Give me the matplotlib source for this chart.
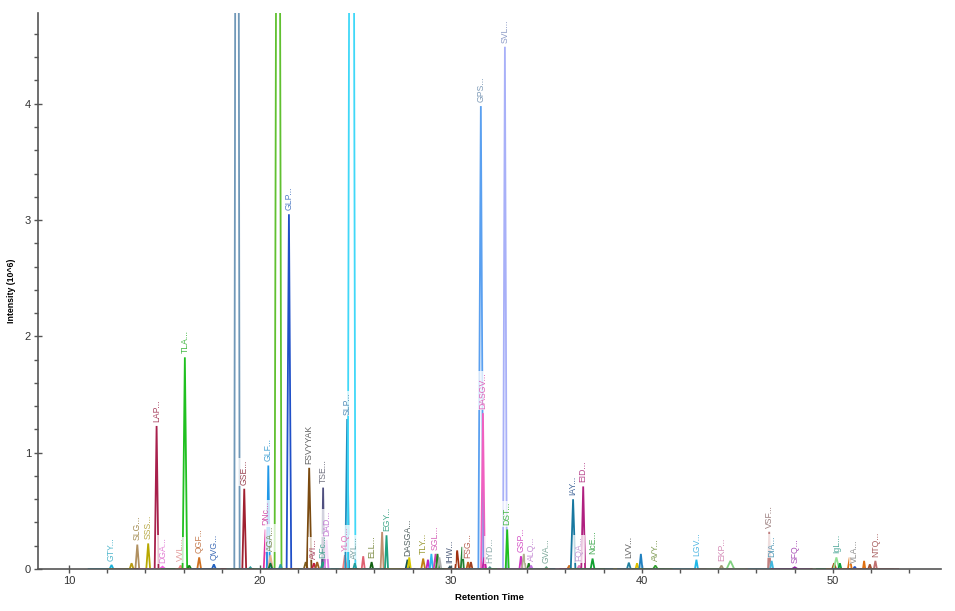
import matplotlib.pyplot as plt
import numpy as np

plt.rcParams['font.family'] = ['Liberation Sans', 'DejaVu Sans']

# peaks: retention time (min), apex (10^6), half width (min)
peak_rt = [12.23, 13.28, 13.58, 14.15, 14.59, 14.9, 15.85, 16.07, 16.3, 16.82,
           17.59, 18.8, 19.18, 19.5, 20.3, 20.44, 20.55, 20.55, 20.95, 21.08,
           21.52, 22.4, 22.58, 22.83, 23.0, 23.31, 23.3, 23.49, 24.45, 24.57,
           24.8, 24.97, 25.41, 25.85, 26.4, 26.63, 27.73, 27.82, 28.55, 28.8,
           28.98, 29.2, 29.3, 29.4, 29.95, 30.33, 30.6, 30.9, 31.05, 31.57,
           31.68, 31.75, 32.04, 32.83, 32.95, 33.67, 33.82, 34.08, 34.2, 35.0,
           36.2, 36.4, 36.72, 36.93, 37.42, 39.32, 39.75, 39.95, 40.71, 42.86,
           44.17, 44.64, 46.67, 46.8, 48.01, 50.07, 50.19, 50.37, 50.89, 51.15,
           51.64, 51.94, 52.23]
peak_height = [0.035, 0.05, 0.21, 0.22, 1.23, 0.02, 0.03, 1.82, 0.03, 0.10,
               0.04, 15.0, 0.69, 0.015, 0.34, 0.89, 0.12, 0.05, 12.0, 0.04,
               3.05, 0.06, 0.87, 0.05, 0.06, 0.70, 0.06, 0.25, 0.12, 1.29,
               14.0, 0.05, 0.11, 0.06, 0.32, 0.29, 0.08, 0.10, 0.09, 0.08,
               0.13, 0.13, 0.13, 0.10, 0.02, 0.16, 0.19, 0.06, 0.06, 3.98,
               1.34, 0.10, 0.015, 4.49, 0.34, 0.11, 0.13, 0.05, 0.03, 0.015,
               0.03, 0.60, 0.03, 0.71, 0.09, 0.055, 0.05, 0.13, 0.03, 0.08,
               0.03, 0.07, 0.32, 0.07, 0.015, 0.05, 0.10, 0.05, 0.10, 0.02,
               0.07, 0.04, 0.07]
peak_width = [0.1, 0.1, 0.1, 0.1, 0.1, 0.15, 0.1, 0.12, 0.1, 0.1,
              0.1, 0.14, 0.1, 0.08, 0.1, 0.08, 0.12, 0.1, 0.18, 0.08,
              0.12, 0.1, 0.12, 0.1, 0.1, 0.06, 0.12, 0.1, 0.1, 0.1,
              0.2, 0.08, 0.08, 0.08, 0.08, 0.08, 0.1, 0.08, 0.1, 0.08,
              0.08, 0.1, 0.08, 0.1, 0.1, 0.1, 0.08, 0.08, 0.08, 0.13,
              0.1, 0.1, 0.08, 0.1, 0.08, 0.08, 0.1, 0.08, 0.08, 0.08,
              0.1, 0.12, 0.1, 0.1, 0.1, 0.1, 0.08, 0.08, 0.12, 0.08,
              0.1, 0.2, 0.06, 0.08, 0.15, 0.1, 0.15, 0.08, 0.1, 0.08,
              0.06, 0.08, 0.08]
peak_color = ['#1ab0d8', '#b89a10', '#b09060', '#b8a800', '#a8204c', '#f060e0', '#f08080', '#20c020', '#108010', '#d07020',
              '#2060c0', '#7098b8', '#a02030', '#30a0a0', '#e030a0', '#2098e8', '#e8b090', '#107030', '#60c030', '#30a0a0',
              '#2050c8', '#806020', '#7a4a10', '#c02040', '#a06020', '#505080', '#20a080', '#e080e8', '#f08080', '#2090c0',
              '#40d8f8', '#20a0a0', '#e06070', '#106010', '#c09070', '#20a080', '#105050', '#d8c800', '#c08010', '#c020c0',
              '#30b8f0', '#d040b0', '#208020', '#b0b0b0', '#305060', '#a03010', '#208030', '#c06020', '#a04020', '#5aa0f0',
              '#f060c0', '#c020a0', '#509090', '#a8b0f8', '#20c020', '#d030c0', '#b0b090', '#208020', '#c070e0', '#60a080',
              '#d07020', '#1878a0', '#e080c0', '#b02080', '#10a030', '#2080a0', '#e0c000', '#2080c0', '#30a030', '#20b8e8',
              '#a09070', '#80d080', '#c08080', '#40b8e0', '#9020a0', '#a05010', '#90e090', '#10a040', '#e07010', '#2050c0',
              '#e07010', '#a05030', '#c07070']
peak_label = ['GTY...', '', 'SLG...', 'SSS...', 'LAP...', 'DGA...', 'VVL...', 'TLA...', '', 'QGF...',
              'QVG...', '', 'GSE...', '', 'DNc...', 'GLF...', 'AGA...', '', '', '',
              'GLP...', '', 'FSVYYAK', 'AVI...', '', 'TSE...', 'DFc...', 'DAD...', 'YLQ...', 'SLP...',
              '', 'AYL...', '', 'ELL...', '', 'EGY...', 'DASGA...', '', 'TLY...', '',
              '', 'SGL...', '', '', 'IHW...', '', '', 'FSG...', '', 'GPS...',
              'DASGV...', '', 'HYD...', 'SVL...', 'DST...', 'GSP...', '', '', 'ALQ...', 'GVA...',
              '', 'IAY...', 'FQA...', 'EID...', 'NcE...', 'LVV...', '', '', 'AVY...', 'LGV...',
              'EKP...', '', 'VSF...', 'DIA...', 'SFQ...', '', 'IgL...', '', '', 'VLA...',
              '', '', 'NTQ...']
label_color = ['#40b0c8', '', '#9a8040', '#b0a030', '#a03050', '#e070d0', '#e09090', '#30b030', '', '#c07040',
               '#3060b0', '', '#903040', '', '#d040a0', '#3098d0', '#708040', '', '', '',
               '#4070c0', '', '#505050', '#a03050', '', '#606070', '#40a090', '#c070d0', '#e060b0', '#4080b0',
               '', '#609090', '', '#708030', '', '#30a080', '#405050', '', '#909020', '',
               '', '#d050b0', '', '', '#405070', '', '', '#b05040', '', '#7090b0',
               '#e050b0', '', '#80a0a0', '#8090c0', '#30b030', '#d040c0', '', '', '#c080d0', '#70a090',
               '', '#305890', '#c090d0', '#b03080', '#30a040', '#505050', '', '', '#709040', '#40b0e0',
               '#d080b0', '', '#907070', '#4090b0', '#a040b0', '', '#40a090', '', '', '#808080',
               '', '', '#a05050']

fig = plt.figure(figsize=(9.55, 6.11), dpi=100)
ax = fig.add_axes([0.0398, 0.0687, 0.9452, 0.91])

for i in range(len(peak_rt)):
    rt = peak_rt[i]
    h = peak_height[i]
    w = peak_width[i]
    xs = [rt - 1.2, rt - w, rt, rt + w, rt + 1.2]
    ys = [0, 0, h, 0, 0]
    ax.plot(xs, ys, color=peak_color[i], lw=1.3, solid_joinstyle='miter')

for i in range(len(peak_rt)):
    if peak_label[i] == '':
        continue
    ax.annotate(peak_label[i], (peak_rt[i], peak_height[i]), xytext=(0, 3),
                textcoords='offset points', rotation=90, ha='center', va='bottom',
                fontsize=6.2, color=label_color[i], alpha=0.9, annotation_clip=True,
                bbox=dict(boxstyle='square,pad=0.15', fc='white', ec='none', alpha=0.75))

ax.set_xlim(8.38, 55.65)
ax.set_ylim(0, 4.78)
ax.set_xticks([10, 20, 30, 40, 50])
ax.set_xticks(np.arange(12, 56, 2), minor=True)
ax.set_yticks([0, 1, 2, 3, 4])
ax.set_yticks(np.arange(0, 4.8, 0.2), minor=True)
ax.spines['top'].set_visible(False)
ax.spines['right'].set_visible(False)
for s in ['left', 'bottom']:
    ax.spines[s].set_color('#555555')
    ax.spines[s].set_linewidth(1.2)
ax.tick_params(which='major', direction='inout', length=6, width=1, colors='#555555',
               labelcolor='#333333', labelsize=8, pad=2)
ax.tick_params(which='minor', direction='out', length=3, width=1, colors='#555555')
ax.set_xlabel('Retention Time', fontsize=6.8, fontweight='bold', labelpad=5)
ax.set_ylabel('Intensity (10^6)', fontsize=6.3, fontweight='bold', labelpad=6)

fig.savefig('out.png', dpi=100)
